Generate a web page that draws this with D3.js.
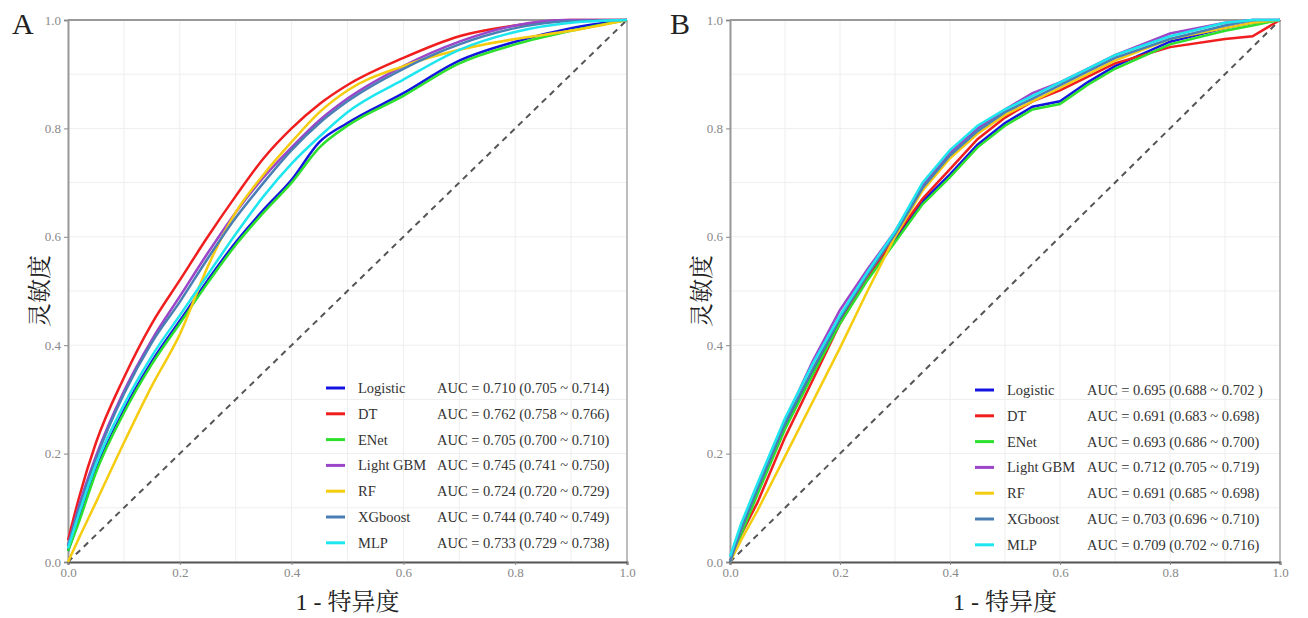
<!DOCTYPE html>
<html>
<head>
<meta charset="utf-8">
<script src="https://cdn.jsdelivr.net/npm/d3@7"></script>
<style>
  body { margin: 0; background: #fff; }
  svg { display: block; }
</style>
</head>
<body>
<div id="chart-area"></div>
<script>
// model names and colours (shared by both panels)
const models = ["Logistic", "DT", "ENet", "Light GBM", "RF", "XGboost", "MLP"]
const colors = ["#1414e0", "#f01e1e", "#2ee02e", "#9b45c9", "#f5cc10", "#4a7fb5", "#1ee6ee"]

const ticks = [0, 0.2, 0.4, 0.6, 0.8, 1.0]

// panel A
const fprA = [0, 0.02, 0.05, 0.1, 0.15, 0.2, 0.25, 0.3, 0.35, 0.4, 0.45, 0.5, 0.6, 0.7, 0.8, 0.9, 1.0]
const tprA_Logistic = [0.02, 0.08, 0.17, 0.28, 0.37, 0.445, 0.52, 0.59, 0.65, 0.705, 0.775, 0.81, 0.865, 0.925, 0.96, 0.985, 1.0]
const tprA_DT       = [0.04, 0.12, 0.22, 0.34, 0.44, 0.52, 0.60, 0.675, 0.745, 0.80, 0.845, 0.88, 0.93, 0.97, 0.99, 1.0, 1.0]
const tprA_ENet     = [0.02, 0.075, 0.165, 0.275, 0.365, 0.44, 0.515, 0.585, 0.645, 0.70, 0.765, 0.805, 0.86, 0.92, 0.955, 0.98, 1.0]
const tprA_LGBM     = [0.03, 0.105, 0.195, 0.315, 0.41, 0.49, 0.57, 0.645, 0.71, 0.765, 0.815, 0.855, 0.915, 0.96, 0.99, 1.0, 1.0]
const tprA_RF       = [0.0, 0.045, 0.11, 0.22, 0.325, 0.42, 0.545, 0.645, 0.715, 0.775, 0.83, 0.87, 0.915, 0.945, 0.965, 0.98, 1.0]
const tprA_XGB      = [0.03, 0.10, 0.19, 0.31, 0.405, 0.48, 0.56, 0.635, 0.70, 0.76, 0.81, 0.85, 0.91, 0.955, 0.985, 0.998, 1.0]
const tprA_MLP      = [0.025, 0.09, 0.18, 0.29, 0.38, 0.455, 0.53, 0.605, 0.675, 0.735, 0.785, 0.83, 0.89, 0.945, 0.978, 0.995, 1.0]
const aucA = [
  "AUC = 0.710 (0.705 ~ 0.714)",
  "AUC = 0.762 (0.758 ~ 0.766)",
  "AUC = 0.705 (0.700 ~ 0.710)",
  "AUC = 0.745 (0.741 ~ 0.750)",
  "AUC = 0.724 (0.720 ~ 0.729)",
  "AUC = 0.744 (0.740 ~ 0.749)",
  "AUC = 0.733 (0.729 ~ 0.738)"
]

// panel B
const fprB = [0, 0.02, 0.05, 0.1, 0.15, 0.2, 0.25, 0.3, 0.35, 0.4, 0.45, 0.5, 0.55, 0.6, 0.65, 0.7, 0.8, 0.9, 0.95, 1.0]
const tprB_Logistic = [0.0, 0.055, 0.13, 0.25, 0.35, 0.445, 0.525, 0.595, 0.665, 0.715, 0.77, 0.81, 0.84, 0.85, 0.885, 0.915, 0.96, 0.985, 0.995, 1.0]
const tprB_DT       = [0.0, 0.05, 0.11, 0.23, 0.335, 0.44, 0.525, 0.60, 0.67, 0.725, 0.78, 0.82, 0.85, 0.87, 0.895, 0.92, 0.95, 0.965, 0.97, 1.0]
const tprB_ENet     = [0.0, 0.05, 0.125, 0.245, 0.345, 0.44, 0.52, 0.59, 0.66, 0.71, 0.765, 0.805, 0.835, 0.845, 0.88, 0.91, 0.955, 0.98, 0.99, 1.0]
const tprB_LGBM     = [0.0, 0.06, 0.14, 0.26, 0.37, 0.465, 0.54, 0.61, 0.695, 0.755, 0.80, 0.835, 0.865, 0.885, 0.91, 0.935, 0.975, 0.995, 1.0, 1.0]
const tprB_RF       = [0.0, 0.04, 0.095, 0.195, 0.295, 0.395, 0.50, 0.60, 0.685, 0.745, 0.79, 0.825, 0.85, 0.875, 0.90, 0.925, 0.965, 0.985, 0.995, 1.0]
const tprB_XGB      = [0.0, 0.06, 0.135, 0.255, 0.355, 0.45, 0.53, 0.605, 0.69, 0.75, 0.795, 0.83, 0.855, 0.88, 0.905, 0.93, 0.965, 0.99, 1.0, 1.0]
const tprB_MLP      = [0.01, 0.07, 0.145, 0.265, 0.365, 0.455, 0.535, 0.61, 0.70, 0.76, 0.805, 0.835, 0.86, 0.885, 0.91, 0.935, 0.97, 0.995, 1.0, 1.0]
const aucB = [
  "AUC = 0.695 (0.688 ~ 0.702 )",
  "AUC = 0.691 (0.683 ~ 0.698)",
  "AUC = 0.693 (0.686 ~ 0.700)",
  "AUC = 0.712 (0.705 ~ 0.719)",
  "AUC = 0.691 (0.685 ~ 0.698)",
  "AUC = 0.703 (0.696 ~ 0.710)",
  "AUC = 0.709 (0.702 ~ 0.716)"
]

const W = 1308, H = 618
const SERIF = "'Liberation Serif', 'Times New Roman', serif"
const CJK = "'Liberation Serif', 'Noto Serif CJK SC', 'Noto Sans CJK SC', serif"

const svg = d3.select("#chart-area").append("svg")
  .attr("width", W)
  .attr("height", H)

function drawPanel(p) {
  const x = d3.scaleLinear().domain([0, 1]).range([p.left, p.right])
  const y = d3.scaleLinear().domain([0, 1]).range([p.bottom, p.top])
  const g = svg.append("g")

  // grid (major + minor every 0.1)
  const grid = d3.range(0, 1.0001, 0.1)
  g.selectAll(".gx").data(grid).enter().append("line")
    .attr("x1", d => x(d)).attr("x2", d => x(d))
    .attr("y1", p.top).attr("y2", p.bottom)
    .attr("stroke", "#eeeeee").attr("stroke-width", 1)
  g.selectAll(".gy").data(grid).enter().append("line")
    .attr("y1", d => y(d)).attr("y2", d => y(d))
    .attr("x1", p.left).attr("x2", p.right)
    .attr("stroke", "#eeeeee").attr("stroke-width", 1)

  // frame: top + right
  g.append("line").attr("x1", p.left).attr("x2", p.right).attr("y1", p.top).attr("y2", p.top)
    .attr("stroke", "#999").attr("stroke-width", 2)
  g.append("line").attr("x1", p.right).attr("x2", p.right).attr("y1", p.top).attr("y2", p.bottom)
    .attr("stroke", "#aaa").attr("stroke-width", 1.5)

  // axes
  const yAxis = g.append("g")
    .attr("transform", `translate(${p.left}, 0)`)
    .call(d3.axisLeft(y).tickValues(ticks).tickFormat(d3.format(".1f")).tickSize(4).tickPadding(3))
  yAxis.select(".domain").attr("stroke", "#999").attr("stroke-width", 2)
  yAxis.selectAll(".tick line").attr("stroke", "#888")
  yAxis.selectAll("text").attr("fill", "#888").attr("font-size", "13px").attr("font-family", SERIF)

  const xAxis = g.append("g")
    .attr("transform", `translate(0, ${p.bottom})`)
    .call(d3.axisBottom(x).tickValues(ticks).tickFormat(d3.format(".1f")).tickSize(3).tickPadding(3))
  xAxis.select(".domain").attr("stroke", "#555").attr("stroke-width", 2)
  xAxis.selectAll(".tick line").attr("stroke", "#888")
  xAxis.selectAll("text").attr("fill", "#888").attr("font-size", "13px").attr("font-family", SERIF)

  // diagonal reference
  g.append("line")
    .attr("x1", x(0)).attr("y1", y(0)).attr("x2", x(1)).attr("y2", y(1))
    .attr("stroke", "#555").attr("stroke-width", 2).attr("stroke-dasharray", "6,5")

  // ROC curves
  const line = d3.line()
    .x(d => x(d[0]))
    .y(d => y(d[1]))
    .curve(p.curve)
  p.tprs.forEach((t, i) => {
    g.append("path")
      .datum(p.fpr.map((f, k) => [f, t[k]]))
      .attr("fill", "none")
      .attr("stroke", colors[i])
      .attr("stroke-width", 2.5)
      .attr("d", line)
  })

  // legend
  const leg = g.selectAll(".leg").data(models).enter().append("g")
    .attr("transform", (d, i) => `translate(${p.legX}, ${p.legY + i * 25.8})`)
  leg.append("line")
    .attr("x1", 0).attr("x2", 19).attr("y1", 0).attr("y2", 0)
    .attr("stroke", (d, i) => colors[i]).attr("stroke-width", 3)
  leg.append("text")
    .attr("x", 32).attr("y", 5)
    .attr("font-family", SERIF).attr("font-size", "14.5px").attr("fill", "#333")
    .text(d => d)
  leg.append("text")
    .attr("x", p.aucX).attr("y", 5)
    .attr("font-family", SERIF).attr("font-size", "14.5px").attr("fill", "#333")
    .text((d, i) => p.auc[i])

  // panel letter
  svg.append("text")
    .attr("x", p.letterX).attr("y", 34)
    .attr("font-family", SERIF).attr("font-size", "30px").attr("fill", "#222")
    .text(p.letter)

  // axis titles
  svg.append("text")
    .attr("x", (p.left + p.right) / 2).attr("y", 610)
    .attr("text-anchor", "middle")
    .attr("font-family", CJK).attr("font-size", "24px").attr("fill", "#222")
    .text("1 - 特异度")
  svg.append("text")
    .attr("transform", `translate(${p.left - 20}, ${(p.top + p.bottom) / 2}) rotate(-90)`)
    .attr("text-anchor", "middle")
    .attr("font-family", CJK).attr("font-size", "24px").attr("fill", "#222")
    .text("灵敏度")
}

drawPanel({
  left: 68, right: 627, top: 20, bottom: 562,
  fpr: fprA,
  tprs: [tprA_Logistic, tprA_DT, tprA_ENet, tprA_LGBM, tprA_RF, tprA_XGB, tprA_MLP],
  curve: d3.curveMonotoneX,
  auc: aucA, legX: 326, legY: 388, aucX: 111,
  letter: "A", letterX: 12
})

drawPanel({
  left: 730, right: 1280, top: 20, bottom: 562,
  fpr: fprB,
  tprs: [tprB_Logistic, tprB_DT, tprB_ENet, tprB_LGBM, tprB_RF, tprB_XGB, tprB_MLP],
  curve: d3.curveLinear,
  auc: aucB, legX: 975, legY: 390, aucX: 112,
  letter: "B", letterX: 670
})
</script>
</body>
</html>
